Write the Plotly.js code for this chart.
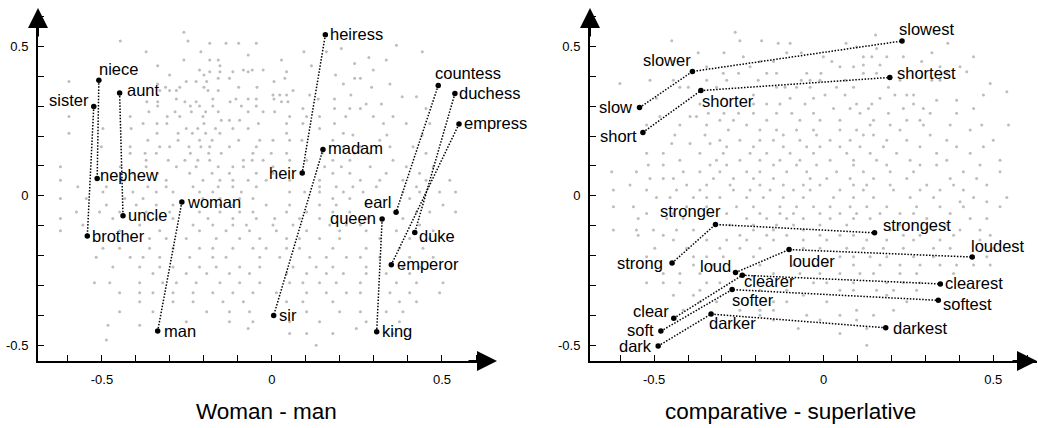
<!DOCTYPE html>
<html>
<head>
<meta charset="utf-8">
<script src="https://cdn.plot.ly/plotly-3.0.1.min.js"></script>
<style>html,body{margin:0;padding:0;background:#fff}#chart{width:1038px;height:428px}</style>
</head>
<body>
<div id="chart"></div>
<script>
// ---------- Data: labelled words ----------
const leftWords = ['heiress','heir','madam','sir','niece','nephew','sister','brother','aunt','uncle','woman','man','countess','earl','duchess','duke','empress','emperor','queen','king'];
const leftX = [0.157,0.089,0.150,0.005,-0.509,-0.514,-0.524,-0.543,-0.448,-0.438,-0.265,-0.336,0.489,0.365,0.538,0.420,0.550,0.351,0.324,0.308];
const leftY = [0.539,0.076,0.155,-0.401,0.387,0.058,0.299,-0.135,0.344,-0.067,-0.021,-0.453,0.369,-0.055,0.342,-0.123,0.240,-0.231,-0.078,-0.455];
const leftPairs = [['heiress','heir'],['madam','sir'],['niece','nephew'],['sister','brother'],['aunt','uncle'],['woman','man'],['countess','earl'],['duchess','duke'],['empress','emperor'],['queen','king']];

const rightWords = ['slow','slower','slowest','short','shorter','shortest','strong','stronger','strongest','loud','louder','loudest','clear','clearer','clearest','soft','softer','softest','dark','darker','darkest'];
const rightX = [-0.543,-0.387,0.231,-0.533,-0.362,0.195,-0.447,-0.319,0.150,-0.260,-0.102,0.438,-0.442,-0.240,0.344,-0.480,-0.270,0.338,-0.488,-0.332,0.183];
const rightY = [0.295,0.416,0.518,0.212,0.352,0.396,-0.225,-0.096,-0.124,-0.257,-0.180,-0.205,-0.410,-0.266,-0.295,-0.453,-0.314,-0.350,-0.503,-0.396,-0.442];
const rightChains = [['slow','slower','slowest'],['short','shorter','shortest'],['strong','stronger','strongest'],['loud','louder','loudest'],['clear','clearer','clearest'],['soft','softer','softest'],['dark','darker','darkest']];

const tickVals = [-0.5, 0, 0.5];
const tickText = ['-0.5', '0', '0.5'];
const panelTitles = ['Woman - man', 'comparative - superlative'];

// ---------- Data: background words (rows of y with x values) ----------
const bgLeftRowY = [0.547,0.518,0.51,0.504,0.493,0.482,0.471,0.463,0.454,0.443,0.435,0.421,0.415,0.404,0.393,0.382,0.374,0.363,0.352,0.337,0.331,0.324,0.315,0.307,0.3,0.292,0.281,0.265,0.253,0.242,0.225,0.209,0.203,0.186,0.164,0.142,0.119,0.097,0.075,0.052,0.03,0.013,-0.009,-0.031,-0.054,-0.076,-0.098,-0.117,-0.143,-0.176,-0.206,-0.238,-0.26,-0.291,-0.325,-0.355,-0.388,-0.422,-0.433,-0.444,-0.461,-0.483,-0.5];
const bgLeftRowX = [
 [-0.259],
 [-0.446,-0.247],
 [-0.183,-0.135,-0.098,-0.046],
 [0.366],
 [0.204],
 [-0.370,-0.209,0.094,0.160,0.442],
 [-0.070],
 [0.285],
 [-0.259,-0.183,-0.158,0.028,0.336],
 [0.243],
 [-0.336,-0.153,0.116],
 [-0.213,-0.084,-0.058,-0.026,0.298],
 [-0.183,-0.153,-0.115,-0.070,0.043],
 [-0.301,-0.200,0.187],
 [-0.125,-0.158,0.038,0.243,0.260],
 [-0.597,-0.252,-0.223,-0.192,0.006],
 [-0.336,0.210,0.347],
 [-0.313,-0.271,-0.200,-0.098,-0.044,0.293],
 [-0.330,-0.301,-0.281,-0.188,-0.158,0.062],
 [0.003,0.023,0.043,0.111,0.232],
 [0.383,0.425],
 [-0.281,-0.174,-0.106,-0.070,-0.046,0.006,0.136,0.184],
 [-0.368,-0.336,-0.256,-0.223,-0.123,0.028,0.047],
 [0.277,0.322],
 [-0.336,-0.240,-0.213,-0.174,-0.090,-0.046],
 [0.091,0.184,0.229,0.260,0.453],
 [-0.362,-0.285,-0.237,-0.195,-0.158,-0.070,-0.026,0.008],
 [-0.597,-0.417,-0.308,-0.271,-0.203,0.052,0.102,0.140,0.217,0.298,0.356],
 [-0.149,-0.125,-0.095],
 [-0.379,-0.338,-0.309,-0.200,-0.040,0.043,0.091,0.184,0.328,0.395,0.464],
 [-0.497,-0.414,-0.252,-0.218,-0.166,-0.115,-0.070,0.140],
 [-0.597,-0.338,-0.276,-0.234,-0.195,-0.153,0.043,0.210],
 [0.238,0.338,0.442],
 [-0.365,-0.276,-0.213,-0.176,-0.098,-0.036,0.003,0.052,0.088,0.179,0.317],
 [-0.502,-0.417,-0.330,-0.301,-0.244,-0.209,-0.183,-0.125,-0.046,0.210,0.260,0.347,0.415],
 [-0.417,-0.373,-0.340,-0.240,-0.186,-0.149,-0.056,-0.002,0.043,0.148,0.243,0.287,0.453],
 [-0.370,-0.305,-0.256,-0.218,-0.183,-0.084,-0.058,-0.026,0.052,0.102,0.179,0.229,0.356],
 [-0.622,-0.446,-0.370,-0.281,-0.223,-0.158,-0.115,-0.084,0.003,0.155,0.204,0.289,0.395,0.474],
 [-0.409,-0.336,-0.242,-0.176,-0.125,-0.046,0.003,0.179,0.229,0.336,0.434],
 [-0.622,-0.433,-0.311,-0.203,-0.153,-0.115,-0.070,-0.017,0.052,0.140,0.260,0.317,0.385,0.453,0.523],
 [-0.571,-0.487,-0.365,-0.311,-0.232,-0.158,-0.115,-0.046,0.140,0.189,0.238,0.307,0.425],
 [-0.497,-0.409,-0.340,-0.291,-0.213,-0.174,-0.090,0.052,0.096,0.140,0.210,0.268,0.385,0.434,0.493,0.540],
 [-0.622,-0.546,-0.433,-0.379,-0.203,-0.153,-0.095,-0.056,0.179,0.229,0.405],
 [-0.487,-0.399,-0.340,-0.291,-0.153,-0.115,-0.017,0.052,0.140,0.189,0.277,0.503],
 [-0.575,-0.507,-0.448,-0.370,-0.301,-0.213,-0.153,-0.095,-0.056,0.043,0.102,0.179,0.229,0.425,0.464,0.540],
 [-0.622,-0.468,-0.340,-0.291,-0.188,-0.115,-0.046,0.008,0.081,0.140,0.277,0.385],
 [-0.556,-0.389,-0.232,-0.174,-0.115,-0.075,0.003,0.062,0.170,0.219,0.260,0.434],
 [-0.622,-0.448,-0.330,-0.213,-0.135,-0.066,0.013,0.102,0.199,0.277,0.366,0.474],
 [-0.360,-0.311,-0.252,-0.164,-0.095,-0.036,0.043,0.081,0.140,0.199,0.317,0.405,0.464],
 [-0.497,-0.448,-0.360,-0.291,-0.213,-0.174,-0.115,-0.056,-0.017,0.043,0.081,0.179,0.277,0.375,0.444],
 [-0.517,-0.417,-0.379,-0.330,-0.242,-0.174,-0.135,-0.036,0.023,0.111,0.160,0.219,0.260,0.317,0.405,0.474],
 [-0.468,-0.389,-0.330,-0.291,-0.213,-0.164,-0.095,-0.036,0.062,0.130,0.179,0.277,0.385,0.434],
 [-0.350,-0.252,-0.192,-0.125,-0.066,0.043,0.102,0.160,0.210,0.277,0.336,0.405],
 [-0.522,-0.477,-0.389,-0.321,-0.281,-0.223,-0.153,-0.095,-0.036,0.052,0.091,0.140,0.189,0.260,0.366,0.425,0.503],
 [-0.448,-0.389,-0.350,-0.291,-0.232,-0.174,-0.115,-0.056,0.013,0.102,0.160,0.219,0.260,0.347,0.405,0.493],
 [-0.389,-0.291,-0.232,-0.144,-0.084,0.043,0.091,0.179,0.375,0.425],
 [-0.448,-0.350,-0.192,-0.125,-0.066,0.102,0.199,0.260,0.336,0.385],
 [-0.252,-0.125,-0.056,0.052,0.140,0.277,0.375],
 [-0.482,-0.389],
 [-0.070,0.248],
 [0.052,0.102,0.179,0.356],
 [-0.487],
 [0.130]
];

const bgRightRowY = [0.547,0.538,0.519,0.51,0.499,0.493,0.479,0.465,0.449,0.438,0.432,0.415,0.41,0.387,0.376,0.363,0.348,0.337,0.326,0.32,0.307,0.292,0.276,0.265,0.253,0.237,0.22,0.203,0.186,0.175,0.164,0.142,0.119,0.103,0.08,0.058,0.036,0.019,-0.006,-0.02,-0.037,-0.059,-0.076,-0.098,-0.115,-0.132,-0.148,-0.176,-0.204,-0.232,-0.26,-0.291,-0.316,-0.333,-0.355,-0.383,-0.4,-0.416,-0.444,-0.461,-0.5];
const bgRightRowX = [
 [-0.261],
 [0.153],
 [-0.448,-0.247,-0.183],
 [-0.134,-0.099,0.066,0.366],
 [0.097],
 [0.156],
 [-0.370,-0.294,-0.109,-0.066,0.319],
 [-0.237,-0.001,0.117,0.142,0.186,0.235,0.442],
 [-0.443,-0.188,-0.148,0.024,0.289],
 [0.117,0.166],
 [-0.345,-0.217,0.048,0.088,0.343,0.402],
 [0.363,0.422],
 [-0.296,-0.251,-0.168,-0.139,-0.050,-0.008,0.117,0.156],
 [-0.512,-0.443,-0.345,-0.286,-0.193,-0.066,-0.040,-0.011,0.063,0.225,0.319,0.343],
 [-0.601,0.491],
 [-0.424,-0.399,-0.316,-0.139,-0.114,-0.080,-0.040,0.038,0.088,0.191],
 [0.540],
 [-0.207,0.004,0.063,0.210,0.245,0.265,0.471],
 [-0.493,-0.296,-0.257,-0.099,-0.030,0.166],
 [0.333,0.392],
 [-0.365,-0.207,-0.168,-0.129,-0.055,0.097,0.142,0.265],
 [0.029,0.078,0.132,0.235,0.294,0.442],
 [-0.340,-0.294,-0.251,-0.207,-0.139,-0.094,-0.030,0.107,0.191,0.314,0.392],
 [-0.483,-0.394,-0.375],
 [-0.306,-0.266,-0.168,-0.070,-0.011,0.048,0.147,0.245,0.284],
 [-0.522,-0.424,-0.345,-0.227,0.137,0.196,0.294,0.373,0.466,0.545],
 [-0.281,-0.188,-0.139,-0.080,-0.030,0.048,0.097,0.225,0.432],
 [-0.439,-0.350,-0.119,-0.021,0.117,0.147,0.314],
 [-0.306,-0.247,-0.188,-0.148,-0.070,0.019,0.078,0.186,0.245,0.363,0.500],
 [-0.448,-0.394,-0.335],
 [-0.286,-0.207,-0.119,-0.050,-0.011,0.048,0.107,0.176,0.284,0.392,0.471],
 [-0.522,-0.473,-0.365,-0.296,-0.217,-0.168,-0.099,-0.030,0.068,0.137,0.215,0.333,0.432],
 [-0.424,-0.316,-0.247,-0.188,-0.129,-0.070,0.019,0.088,0.156,0.255,0.363,0.520],
 [-0.517,-0.473,-0.335,-0.286,-0.148,-0.080,-0.021,0.088,0.186,0.284,0.333,0.461],
 [-0.625,-0.552,-0.414,-0.365,-0.306,-0.227,-0.188,-0.109,-0.050,0.038,0.117,0.196,0.265,0.412,0.520],
 [-0.512,-0.473,-0.443,-0.325,-0.266,-0.207,-0.148,-0.040,0.009,0.078,0.147,0.245,0.373,0.451],
 [-0.571,-0.404,-0.345,-0.276,-0.188,-0.119,-0.060,-0.011,0.088,0.127,0.196,0.304,0.383,0.481],
 [-0.620,-0.522,-0.434,-0.365,-0.266,-0.217,-0.158,-0.089,-0.040,0.048,0.117,0.206,0.284,0.343,0.412],
 [-0.493,-0.453,-0.384,-0.345,-0.306,-0.227,-0.178,-0.119,-0.060,0.029,0.088,0.147,0.255,0.324,0.442,0.540],
 [0.402,0.481],
 [-0.620,-0.561,-0.404,-0.345,-0.257,-0.207,-0.129,-0.080,-0.030,0.019,0.078,0.127,0.186,0.274,0.343,0.412,0.520],
 [-0.522,-0.443,-0.286,-0.188,-0.129,-0.089,-0.011,0.048,0.097,0.166,0.225,0.265,0.373],
 [-0.547,-0.463,-0.414,-0.227,-0.168,-0.109,-0.060,0.019,0.088,0.137,0.304,0.432,0.481],
 [-0.276,-0.207,-0.139,-0.089,-0.011,0.068,0.225,0.363],
 [-0.620,-0.552,-0.502,-0.434,-0.384,-0.207,-0.148,-0.060,0.196,0.324,0.402,0.461],
 [-0.547,-0.473,-0.247,-0.168,-0.109,-0.011,0.048,0.088,0.235,0.284,0.383,0.491],
 [-0.443,-0.345,-0.286,-0.227,-0.148,-0.060,0.009,0.127,0.186,0.265,0.343,0.461],
 [-0.498,-0.404,-0.306,-0.247,-0.188,-0.060,-0.011,0.068,0.117,0.176,0.235,0.324,0.373,0.500],
 [-0.522,-0.384,-0.345,-0.296,-0.207,0.048,0.088,0.137,0.186,0.265,0.324,0.481],
 [-0.384,-0.325,-0.188,-0.089,-0.030,0.009,0.088,0.166,0.225,0.284,0.343,0.392,0.442,0.491],
 [-0.473,-0.424,-0.365,-0.148,-0.070,-0.011,0.048,0.107,0.147,0.225,0.274,0.383],
 [-0.522,-0.473,-0.424,-0.345,-0.306,-0.030,0.009,0.088,0.186,0.235,0.284],
 [-0.365,-0.188,-0.109,0.048,0.088,0.156,0.206,0.274],
 [-0.443,-0.384,-0.060,0.186],
 [-0.365,-0.316,-0.148,-0.109,0.009,0.245,0.383],
 [-0.414,-0.247,-0.188,-0.148,0.097,0.206],
 [-0.188,-0.050,0.048,0.147],
 [-0.148,-0.011,0.097],
 [-0.075,0.127],
 [0.048],
 [0.127]
];

// ---------- Styles (label placement: xanchor, x shift px, y shift px) ----------
const labelStyle = {
  heiress:['left',4,1], heir:['right',-4,0], madam:['left',4,1], sir:['left',4,1],
  niece:['left',-1,11], nephew:['left',2,3], sister:['right',-4,6], brother:['left',4,0],
  aunt:['left',6,3], uncle:['left',4,1], woman:['left',4,0], man:['left',5,0],
  countess:['left',-4,13], earl:['right',-3,10], duchess:['left',3,1], duke:['left',3,-3],
  empress:['left',4,1], emperor:['left',5,1], queen:['right',-5,1], king:['left',4,1],
  slow:['right',-7,1], slower:['right',0,11], slowest:['left',-4,12],
  short:['right',-5,-4], shorter:['left',0,-10], shortest:['left',6,4],
  strong:['right',-8,0], stronger:['right',7,13], strongest:['left',7,8],
  loud:['right',-4,7], louder:['left',-1,-11], loudest:['left',-2,11],
  clear:['right',-4,7], clearer:['left',1,-6], clearest:['left',4,1],
  soft:['right',-6,1], softer:['left',-1,-10], softest:['left',4,-4],
  dark:['right',-5,0], darker:['left',-3,-9], darkest:['left',6,0]
};

const FONT = '"Liberation Sans", Arial, Helvetica, sans-serif';
const W = 1038, H = 428;
const px = v => v / W, py = v => (H - v) / H;

function flatten(rowY, rowX) {
  const xs = [], ys = [];
  rowY.forEach((y, i) => rowX[i].forEach(x => { xs.push(x); ys.push(y); }));
  return {xs, ys};
}

const traces = [];
const annotations = [];

function buildPanel(words, X, Y, groups, bgY, bgX, xa, ya) {
  const bg = flatten(bgY, bgX);
  traces.push({x: bg.xs, y: bg.ys, xaxis: xa, yaxis: ya, mode: 'markers', type: 'scatter',
    marker: {size: 3, color: '#bdbdbd'}, hoverinfo: 'skip', showlegend: false});
  groups.forEach(g => {
    const idx = g.map(w => words.indexOf(w));
    traces.push({x: idx.map(i => X[i]), y: idx.map(i => Y[i]), xaxis: xa, yaxis: ya,
      mode: 'lines', type: 'scatter', line: {color: '#000', width: 1.5, dash: '1.5px,1.6px'},
      hoverinfo: 'skip', showlegend: false});
  });
  traces.push({x: X, y: Y, xaxis: xa, yaxis: ya, mode: 'markers', type: 'scatter',
    marker: {size: 5.5, color: '#000'}, text: words, hoverinfo: 'text', showlegend: false});
  words.forEach((w, i) => {
    const s = labelStyle[w];
    annotations.push({x: X[i], y: Y[i], xref: xa, yref: ya, text: w, showarrow: false,
      xanchor: s[0], yanchor: 'middle', xshift: s[1], yshift: s[2],
      font: {family: FONT, size: 16.5, color: '#000'}, borderpad: 0});
  });
}

buildPanel(leftWords, leftX, leftY, leftPairs, bgLeftRowY, bgLeftRowX, 'x', 'y');
buildPanel(rightWords, rightX, rightY, rightChains, bgRightRowY, bgRightRowX, 'x2', 'y2');

function axis(domain, range, anchor) {
  return {domain, range, anchor, showgrid: false, zeroline: false, showline: true,
    linecolor: '#000', linewidth: 2, mirror: false,
    tickmode: 'array', tickvals: tickVals, ticktext: tickText,
    ticks: 'inside', ticklen: 6, tickwidth: 1, tickcolor: '#000',
    minor: {dtick: 0.1, tick0: 0, ticks: 'inside', ticklen: 6, tickwidth: 1, tickcolor: '#000', showgrid: false},
    tickfont: {family: FONT, size: 13, color: '#000'}, ticklabelstandoff: 5, fixedrange: true};
}

const yDom = [py(361), py(12)];
const yRange = [-0.553, 0.615];

// axis arrowheads
function arrow(xp, yp, ax, ay) {
  annotations.push({x: xp, y: yp, xref: 'paper', yref: 'paper', ax, ay, axref: 'pixel', ayref: 'pixel',
    text: '', showarrow: true, arrowhead: 2, arrowsize: 2, arrowwidth: 2, arrowcolor: '#000',
    standoff: 0, startstandoff: 0});
}
arrow(px(497), py(361), -30, 0);
arrow(px(38), py(8), 0, 30);
arrow(px(1041), py(361), -30, 0);
arrow(px(590), py(8), 0, 30);

// panel titles
[[266, panelTitles[0]], [790, panelTitles[1]]].forEach(([cx, t]) => {
  annotations.push({x: px(cx), y: py(411), xref: 'paper', yref: 'paper', text: t, showarrow: false,
    xanchor: 'center', yanchor: 'middle', font: {family: FONT, size: 22.5, color: '#000'}});
});

const layout = {
  width: W, height: H, margin: {l: 0, r: 0, t: 0, b: 0, pad: 0},
  paper_bgcolor: '#fff', plot_bgcolor: 'rgba(0,0,0,0)', showlegend: false,
  xaxis: axis([px(38), px(493)], [-0.688, 0.65], 'y'),
  yaxis: axis(yDom, yRange, 'x'),
  xaxis2: axis([px(590), px(1037)], [-0.689, 0.629], 'y2'),
  yaxis2: axis(yDom, yRange, 'x2'),
  annotations,
  font: {family: FONT}
};

Plotly.newPlot('chart', traces, layout, {displayModeBar: false, staticPlot: true});
</script>
</body>
</html>
